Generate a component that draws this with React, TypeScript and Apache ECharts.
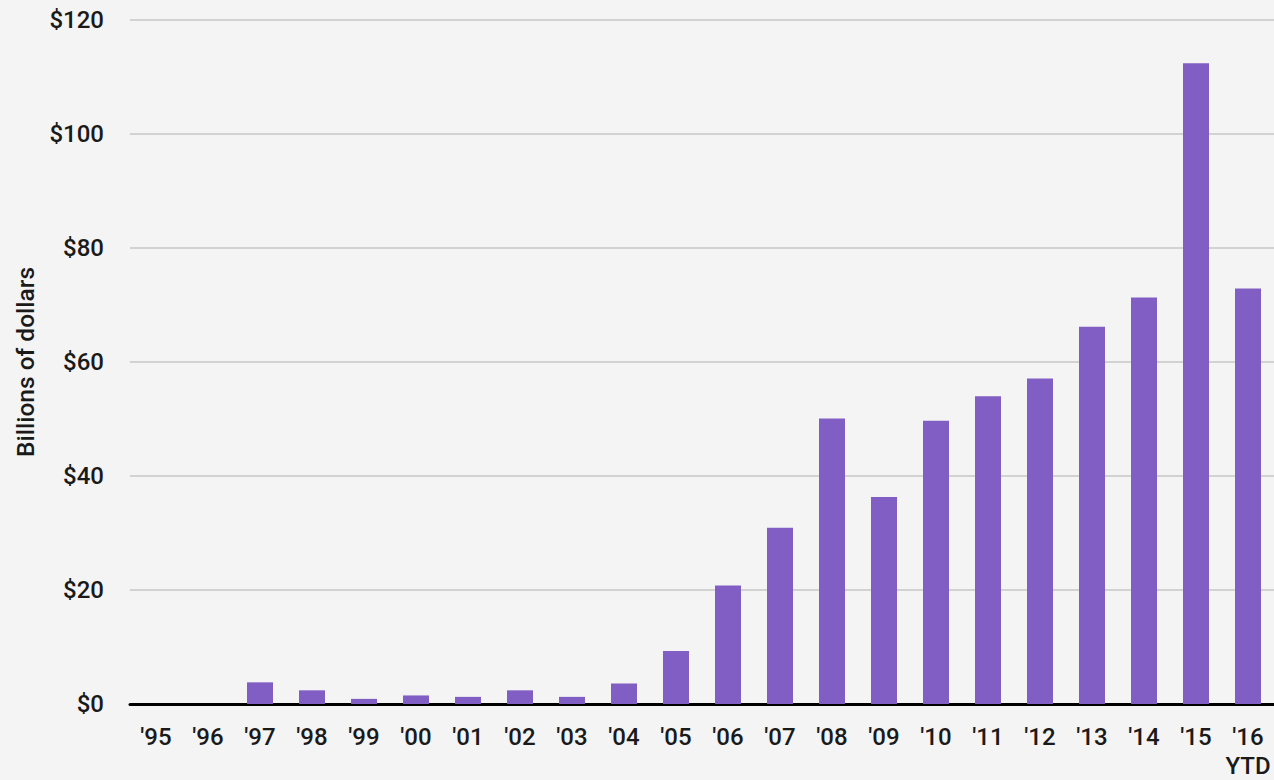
import React, { useEffect, useRef } from "react";
import * as echarts from "echarts";

const categories = ["'95", "'96", "'97", "'98", "'99", "'00", "'01", "'02", "'03", "'04", "'05", "'06", "'07", "'08", "'09", "'10", "'11", "'12", "'13", "'14", "'15", "'16\nYTD"];
const values = [0, 0, 3.8, 2.4, 0.9, 1.5, 1.25, 2.4, 1.25, 3.6, 9.3, 20.8, 30.9, 50.1, 36.3, 49.7, 54.0, 57.1, 66.2, 71.3, 112.4, 72.9];
const yTicks = { min: 0, max: 120, interval: 20 };
const yTitle = "Billions of dollars";

export default function App() {
  const ref = useRef<HTMLDivElement>(null);
  useEffect(() => {
    if (!ref.current) return;
    const chart = echarts.init(ref.current, undefined, { renderer: "svg" });
    chart.setOption({
      animation: false,
      backgroundColor: "#f4f4f4",
      textStyle: { fontFamily: "Roboto" },
      grid: { left: 130, right: 0, top: 20, bottom: 67.5 },
      xAxis: {
        type: "category",
        data: categories,
        axisLine: { show: true, lineStyle: { color: "#000", width: 3 } },
        axisTick: { show: false },
        axisLabel: {
          interval: 0,
          margin: 18,
          fontSize: 24,
          fontWeight: 500,
          color: "#1a1a1a",
          lineHeight: 29,
          fontFamily: "Roboto",
        },
      },
      yAxis: {
        type: "value",
        min: yTicks.min,
        max: yTicks.max,
        interval: yTicks.interval,
        name: yTitle,
        nameLocation: "middle",
        nameGap: 92,
        nameTextStyle: { fontSize: 24.5, color: "#1a1a1a", fontFamily: "Roboto", fontWeight: 500 },
        axisLine: { show: false },
        axisTick: { show: false },
        splitLine: { lineStyle: { color: "#d2d2d2", width: 2 } },
        axisLabel: {
          margin: 26,
          fontSize: 24,
          fontWeight: 500,
          color: "#1a1a1a",
          fontFamily: "Roboto",
          formatter: (v: number) => "$" + v,
        },
      },
      series: [
        {
          type: "bar",
          data: values,
          barWidth: 26,
          itemStyle: { color: "#815ec4" },
        },
      ],
    });
    return () => chart.dispose();
  }, []);
  return <div ref={ref} style={{ width: 1274, height: 780, position: "fixed", left: 0, top: 0 }} />;
}
